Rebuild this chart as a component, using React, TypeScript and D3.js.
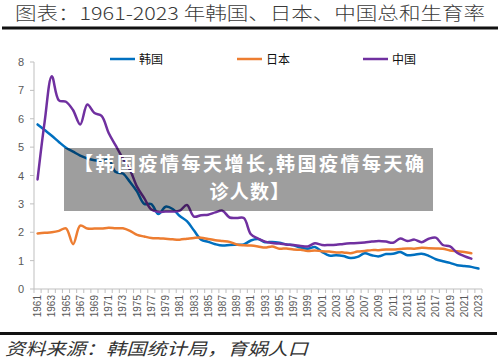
import React from "react";
import * as d3 from "d3";

const years: number[] = d3.range(1961, 2024);

// Korea (null = no data; line connects neighbouring points)
const korea: (number | null)[] = [
  5.8, 5.6, 5.4, 5.18, 4.98, 4.84, 4.7, 4.6, 4.54, 4.53,
  4.54, 4.12, 4.07, 3.77, 3.43, 3.0, 2.99, 2.64, 2.9, 2.82,
  2.57, 2.39, 2.06, 1.74, 1.66, 1.58, 1.53, 1.55, 1.56, 1.57,
  1.71, 1.76, 1.65, 1.66, 1.63, 1.57, 1.54, 1.46, 1.42, 1.48,
  1.31, 1.18, 1.19, 1.16, 1.09, 1.13, 1.26, 1.19, 1.15, 1.23,
  1.24, 1.3, 1.19, 1.21, 1.24, 1.17, 1.05, 0.98, 0.92, 0.84,
  0.81, 0.78, 0.72,
];

const japan: (number | null)[] = [
  1.96, 1.98, 2.0, 2.05, 2.14, 1.58, 2.23, 2.13, 2.13, 2.13,
  2.16, 2.14, 2.14, 2.05, 1.91, 1.85, 1.8, 1.79, 1.77, 1.75,
  1.74, 1.77, 1.8, 1.81, 1.76, 1.72, 1.69, 1.66, 1.57, 1.54,
  1.53, 1.5, 1.46, 1.5, 1.42, 1.43, 1.39, 1.38, 1.34, 1.36,
  1.33, 1.32, 1.29, 1.29, 1.26, 1.32, 1.34, 1.37, 1.37, 1.39,
  1.39, 1.41, 1.43, 1.42, 1.45, 1.44, 1.43, 1.42, 1.36, 1.33,
  1.3, 1.26, null,
];

const china: (number | null)[] = [
  3.86, 5.9, 7.5, 6.65, 6.6, 6.3, 5.8, 6.5, 6.2, 6.1,
  5.5, 5.05, 4.6, 4.2, 3.6, 3.2, 2.8, 2.72, 2.73, 2.73,
  2.76, 2.96, 2.55, 2.6, 2.62, 2.7, 2.76, 2.52, 2.5, 2.5,
  1.93, 1.78, 1.67, 1.62, 1.6, 1.57, 1.55, 1.52, 1.5, 1.61,
  1.55, 1.55, 1.56, 1.59, 1.61, 1.62, 1.64, 1.67, 1.69, 1.67,
  1.63, 1.78, 1.69, 1.74, 1.65, 1.77, 1.81, 1.55, 1.5, 1.28,
  1.16, 1.07, null,
];

const seriesNames = ["韩国", "日本", "中国"];
const seriesColors = ["#0070c0", "#ed7d31", "#7030a0"];
const yTicks = [0, 1, 2, 3, 4, 5, 6, 7, 8];
const xLabels = years.filter((y) => (y - 1961) % 2 === 0);

const titleText = "图表：1961-2023 年韩国、日本、中国总和生育率";
const sourceText = "资料来源：韩国统计局，育娲人口";
const overlayLine1 = "【韩国疫情每天增长,韩国疫情每天确";
const overlayLine2 = "诊人数】";

export default function App() {
  const width = 500;
  const height = 360;
  const x = d3.scaleBand<number>().domain(years).range([34, 482]).padding(0);
  const y = d3.scaleLinear().domain([0, 8]).range([289, 62]);
  const cx = (yr: number) => (x(yr) as number) + x.bandwidth() / 2;

  const allSeries = [korea, japan, china];
  const line = d3
    .line<[number, number]>()
    .x((d) => cx(d[0]))
    .y((d) => y(d[1]))
    .curve(d3.curveCatmullRom.alpha(0.5));

  const paths = allSeries.map((s) => {
    const pts: [number, number][] = [];
    s.forEach((v, i) => {
      if (v !== null) pts.push([years[i], v]);
    });
    return line(pts) || "";
  });

  const legendX = [110, 237, 363];
  const axisColor = "#bfbfbf";
  const cjk = "'Noto Sans CJK SC', 'Noto Sans', sans-serif";

  return (
    <svg
      width={width}
      height={height}
      style={{ position: "absolute", left: 0, top: 0, background: "#fff" }}
    >
      <rect x={0} y={0} width={width} height={height} fill="#fff" />
      {/* title */}
      <text
        x={15}
        y={20}
        fontFamily={cjk}
        fontSize={18}
        fontWeight={300}
        fill="#3a3a3a"
        textLength={470}
        lengthAdjust="spacingAndGlyphs"
      >
        {titleText}
      </text>
      <rect x={2} y={26.5} width={496} height={3} fill="#111" />

      {/* legend */}
      {seriesNames.map((n, i) => (
        <g key={n}>
          <line
            x1={legendX[i]}
            x2={legendX[i] + 25}
            y1={59}
            y2={59}
            stroke={seriesColors[i]}
            strokeWidth={2.5}
          />
          <text x={legendX[i] + 29} y={63.5} fontFamily={cjk} fontSize={12} fill="#111">
            {n}
          </text>
        </g>
      ))}

      {/* axes */}
      <line x1={34} x2={34} y1={y(8)} y2={y(0)} stroke={axisColor} strokeWidth={1} />
      {yTicks.map((t) => (
        <g key={t}>
          <line x1={30} x2={34} y1={y(t)} y2={y(t)} stroke={axisColor} />
          <text
            x={24}
            y={y(t) + 4}
            textAnchor="end"
            fontFamily="'Liberation Sans', Arial, sans-serif"
            fontSize={11}
            fill="#595959"
          >
            {t}
          </text>
        </g>
      ))}
      <line x1={34} x2={482} y1={y(0)} y2={y(0)} stroke={axisColor} strokeWidth={1} />
      {years.concat([2024]).map((yr, i) => (
        <line
          key={"t" + yr}
          x1={34 + i * x.bandwidth()}
          x2={34 + i * x.bandwidth()}
          y1={y(0)}
          y2={y(0) + 4}
          stroke={axisColor}
        />
      ))}
      {xLabels.map((yr) => (
        <text
          key={"l" + yr}
          transform={`translate(${cx(yr) + 3.5},${y(0) + 6}) rotate(-90)`}
          textAnchor="end"
          fontFamily="'Liberation Sans', Arial, sans-serif"
          fontSize={10}
          fill="#595959"
        >
          {yr}
        </text>
      ))}

      {/* lines */}
      {paths.map((p, i) => (
        <path
          key={i}
          d={p}
          fill="none"
          stroke={seriesColors[i]}
          strokeWidth={2.5}
          strokeLinejoin="round"
          strokeLinecap="round"
        />
      ))}

      {/* overlay */}
      <rect x={64} y={148} width={369} height={63} fill="#000" fillOpacity={0.38} />
      <text
        x={74}
        y={171}
        fontFamily={cjk}
        fontWeight="bold"
        fontSize={19}
        fill="#fff"
        textLength={350}
        lengthAdjust="spacing"
      >
        {overlayLine1}
      </text>
      <text
        x={250}
        y={198.5}
        textAnchor="middle"
        fontFamily={cjk}
        fontWeight="bold"
        fontSize={19}
        fill="#fff"
        letterSpacing={1.3}
      >
        {overlayLine2}
      </text>

      {/* footer */}
      <rect x={0} y={332} width={497} height={3} fill="#111" />
      <text
        x={5}
        y={355}
        fontFamily={cjk}
        fontStyle="italic"
        fontSize={17}
        fill="#333"
        textLength={303}
        lengthAdjust="spacingAndGlyphs"
      >
        {sourceText}
      </text>
    </svg>
  );
}
